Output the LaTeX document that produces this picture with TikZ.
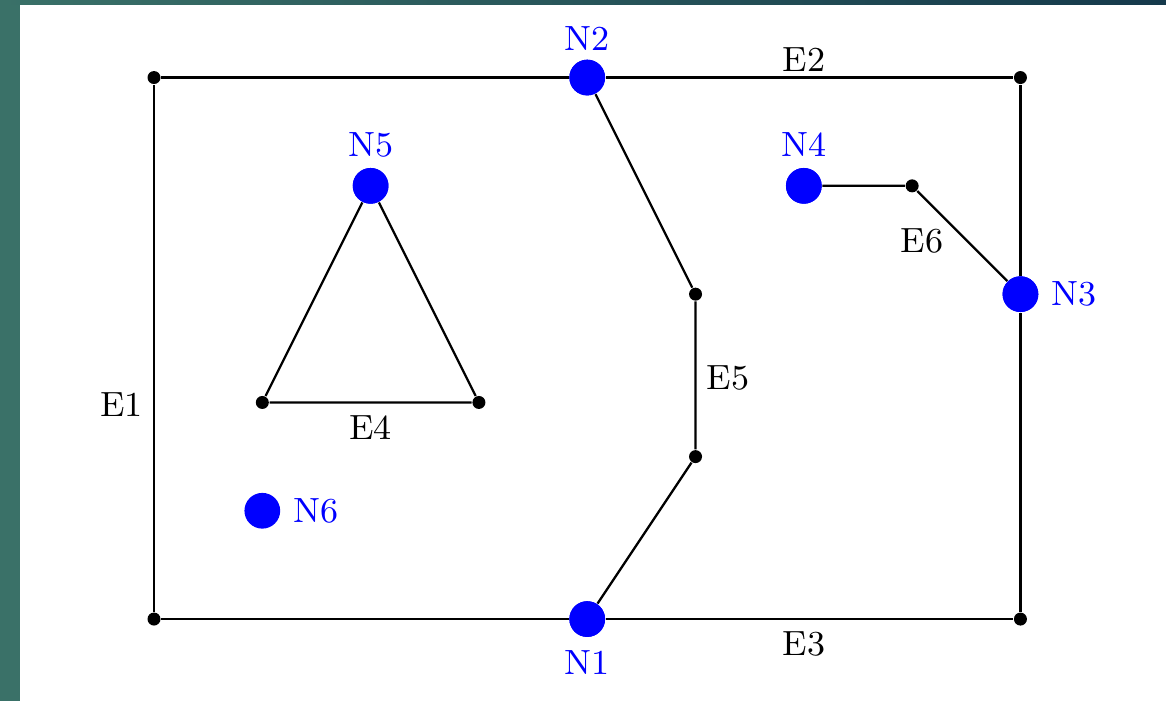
\documentclass[tikz,border=0pt]{standalone}
\usetikzlibrary{calc}
\definecolor{nodeblue}{RGB}{0,0,255}
\definecolor{stripteal}{RGB}{58,113,104}
\definecolor{stripnavy}{RGB}{21,57,75}
\begin{document}
\begin{tikzpicture}[
  x=1cm,y=1cm,
  bignode/.style={circle,fill=nodeblue,inner sep=0pt,minimum size=0.33cm},
  dotnode/.style={circle,fill=black,inner sep=0pt,minimum size=0.12cm},
  nlabel/.style={text=nodeblue,font=\fontsize{9.2}{10}\selectfont,inner sep=0pt},
  elabel/.style={text=black,font=\fontsize{9.2}{10}\selectfont,inner sep=0pt},
  edge/.style={draw=black,line width=0.6pt}
]
% canvas and frame strips
\useasboundingbox (-1.422,-0.757) rectangle (9.344,5.716);
\fill[white] (-1.422,-0.757) rectangle (9.344,5.716);
\fill[stripteal] (-1.422,-0.757) rectangle (-1.237,5.716);
\shade[left color=stripteal,right color=stripnavy] (-1.422,5.670) rectangle (9.344,5.716);

% corner and bend points
\node[dotnode] (c00) at (0,0) {};
\node[dotnode] (c05) at (0,5) {};
\node[dotnode] (c85) at (8,5) {};
\node[dotnode] (c80) at (8,0) {};
\node[dotnode] (t1) at (1,2) {};
\node[dotnode] (t2) at (3,2) {};
\node[dotnode] (p1) at (5,3) {};
\node[dotnode] (p2) at (5,1.5) {};
\node[dotnode] (q1) at (7,4) {};

% blue nodes
\node[bignode] (N1) at (4,0) {};
\node[bignode] (N2) at (4,5) {};
\node[bignode] (N3) at (8,3) {};
\node[bignode] (N4) at (6,4) {};
\node[bignode] (N5) at (2,4) {};
\node[bignode] (N6) at (1,1) {};

% edges
\draw[edge] (c00) -- (c05);
\draw[edge] (c05) -- (N2) -- (c85);
\draw[edge] (c85) -- (N3) -- (c80);
\draw[edge] (c00) -- (N1) -- (c80);
\draw[edge] (N5) -- (t2) -- (t1) -- (N5);
\draw[edge] (N2) -- (p1) -- (p2) -- (N1);
\draw[edge] (N4) -- (q1) -- (N3);

% redraw blue nodes on top
\node[bignode] at (N1) {};
\node[bignode] at (N2) {};
\node[bignode] at (N3) {};
\node[bignode] at (N4) {};
\node[bignode] at (N5) {};

% node labels
\node[nlabel] (lN1) at (4,-0.40) {N1};
\node[nlabel] (lN2) at (4,5.36) {N2};
\node[nlabel] (lN3) at (8.49,3) {N3};
\node[nlabel] (lN4) at (6,4.38) {N4};
\node[nlabel] (lN5) at (2,4.38) {N5};
\node[nlabel] (lN6) at (1.50,1) {N6};

% edge labels
\node[elabel] (lE1) at (-0.30,1.98) {E1};
\node[elabel] (lE2) at (6.00,5.17) {E2};
\node[elabel] (lE3) at (6.00,-0.23) {E3};
\node[elabel] (lE4) at (2.00,1.77) {E4};
\node[elabel] (lE5) at (5.30,2.23) {E5};
\node[elabel] (lE6) at (7.09,3.49) {E6};
\end{tikzpicture}
\end{document}
